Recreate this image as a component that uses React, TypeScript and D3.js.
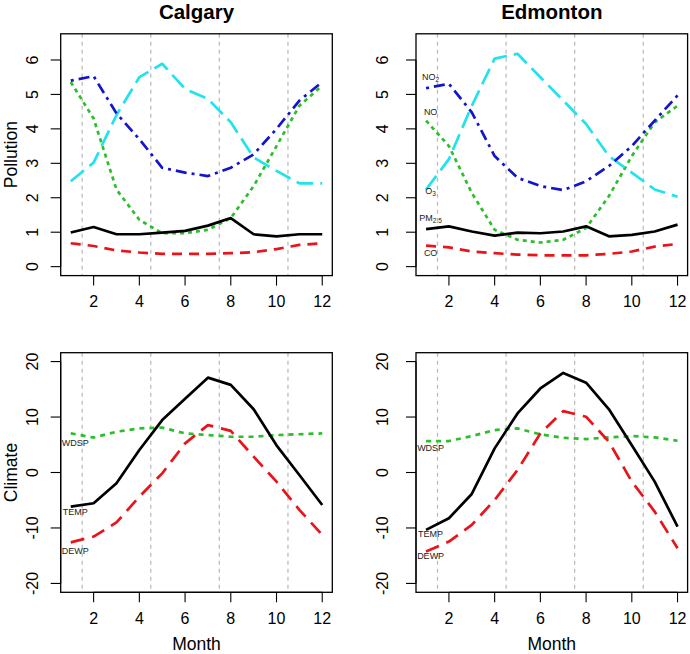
import React from "react";
import * as d3 from "d3";

const months = [1, 2, 3, 4, 5, 6, 7, 8, 9, 10, 11, 12];
const seasonBreaks = [1.5, 4.5, 7.5, 10.5];
const monthTicks = [2, 4, 6, 8, 10, 12];
const pollutionTicks = [0, 1, 2, 3, 4, 5, 6];
const climateTicks = [-20, -10, 0, 10, 20];
const cities = ["Calgary", "Edmonton"];

// Calgary pollution
const calNO2 = [5.4, 5.53, 4.45, 3.7, 2.87, 2.73, 2.63, 2.87, 3.26, 4.0, 4.82, 5.36];
const calO3 = [2.48, 3.02, 4.4, 5.5, 5.89, 5.16, 4.87, 4.19, 3.17, 2.78, 2.42, 2.42];
const calNO = [5.36, 4.3, 2.24, 1.36, 0.97, 0.97, 1.07, 1.41, 2.34, 3.5, 4.67, 5.26];
const calPM25 = [0.99, 1.15, 0.94, 0.94, 0.99, 1.04, 1.19, 1.41, 0.94, 0.88, 0.94, 0.94];
const calCO = [0.68, 0.6, 0.47, 0.41, 0.37, 0.37, 0.37, 0.39, 0.42, 0.51, 0.63, 0.68];

// Edmonton pollution
const edmNO2 = [5.18, 5.31, 4.48, 3.21, 2.58, 2.34, 2.22, 2.48, 2.92, 3.5, 4.24, 4.97];
const edmO3 = [2.24, 3.12, 4.67, 6.04, 6.18, 5.5, 4.82, 4.14, 3.21, 2.73, 2.24, 2.03];
const edmNO = [4.24, 3.5, 2.14, 1.07, 0.78, 0.7, 0.78, 1.12, 2.05, 3.21, 4.19, 4.67];
const edmPM25 = [1.09, 1.17, 1.02, 0.9, 0.99, 0.97, 1.02, 1.17, 0.88, 0.92, 1.02, 1.22];
const edmCO = [0.61, 0.56, 0.44, 0.39, 0.35, 0.33, 0.33, 0.33, 0.37, 0.44, 0.58, 0.66];

// Calgary climate
const calTEMP = [-6.15, -5.55, -1.95, 4.05, 9.45, 13.3, 17.1, 15.8, 11.4, 4.9, -0.45, -5.85];
const calDEWP = [-12.6, -11.55, -9.0, -4.35, -0.15, 5.25, 8.55, 7.5, 2.85, -1.65, -6.75, -11.25];
const calWDSP = [7.05, 6.3, 7.35, 7.95, 8.1, 7.05, 6.75, 6.45, 6.45, 6.75, 6.9, 7.05];

// Edmonton climate
const edmTEMP = [-10.35, -8.25, -3.87, 4.35, 10.65, 15.15, 17.96, 16.2, 11.4, 4.9, -1.65, -9.75];
const edmDEWP = [-14.25, -12.45, -9.45, -4.95, 0.45, 7.05, 11.07, 10.05, 5.55, -1.65, -7.05, -13.65];
const edmWDSP = [5.67, 5.67, 6.57, 7.65, 7.95, 6.87, 6.27, 6.03, 6.33, 6.57, 6.33, 5.73];

// label annotations (value positions)
const edmPollutionLabels = [
  { name: "NO", sub: "2", y: 5.5 },
  { name: "NO", sub: "", y: 4.5 },
  { name: "O", sub: "3", y: 2.2 },
  { name: "PM", sub: "2.5", y: 1.42 },
  { name: "CO", sub: "", y: 0.4 },
];
const calClimateLabels = [
  { name: "WDSP", sub: "", y: 5.25 },
  { name: "TEMP", sub: "", y: -7.2 },
  { name: "DEWP", sub: "", y: -14.1 },
];
const edmClimateLabels = [
  { name: "WDSP", sub: "", y: 4.46 },
  { name: "TEMP", sub: "", y: -11.1 },
  { name: "DEWP", sub: "", y: -15.1 },
];

const FONT = "Liberation Sans, Arial, Helvetica, sans-serif";
const BLUE = "#1414CC";
const CYAN = "#22E2EC";
const GREEN = "#2DBE2D";
const RED = "#E8141A";

type Series = { values: number[]; color: string; dash: string; width?: number };
type Label = { name: string; sub: string; y: number };

function Panel(props: {
  x0: number;
  x1: number;
  y0: number;
  y1: number;
  domain: [number, number];
  yTicks: number[];
  series: Series[];
  labels: Label[];
  yTickX: number;
  yTitle?: string;
  title?: string;
  xTitle?: string;
}) {
  const { x0, x1, y0, y1, domain, yTicks, series, labels, yTickX, yTitle, title, xTitle } = props;
  const ext = (12 - 1) * 0.04;
  const xs = d3.scaleLinear().domain([1 - ext, 12 + ext]).range([x0, x1]);
  const dext = (domain[1] - domain[0]) * 0.04;
  const ys = d3.scaleLinear().domain([domain[0] - dext, domain[1] + dext]).range([y1, y0]);
  const line = d3
    .line<number>()
    .x((_, i) => xs(months[i]))
    .y((d) => ys(d));
  const tick = 10;
  return (
    <g>
      {seasonBreaks.map((b) => (
        <line key={b} x1={xs(b)} x2={xs(b)} y1={y0} y2={y1} stroke="#bdbdbd" strokeWidth={1.3} strokeDasharray="4,4" />
      ))}
      {series.map((s, i) => (
        <path key={i} d={line(s.values) || ""} fill="none" stroke={s.color} strokeWidth={s.width ?? 2.7} strokeDasharray={s.dash} strokeLinejoin="round" />
      ))}
      {labels.map((l, i) => (
        <text key={i} x={xs(1.2)} y={ys(l.y) + 3} fontSize={9} fontFamily={FONT} textAnchor="middle" fill="#222">
          {l.name}
          {l.sub ? (
            <tspan fontSize={6.5} dy={2}>{l.sub}</tspan>
          ) : null}
        </text>
      ))}
      <rect x={x0} y={y0} width={x1 - x0} height={y1 - y0} fill="none" stroke="#000" strokeWidth={1.3} />
      {/* x axis */}
      <line x1={xs(2)} x2={xs(12)} y1={y1} y2={y1} stroke="#000" strokeWidth={1.1} />
      {monthTicks.map((t) => (
        <g key={t}>
          <line x1={xs(t)} x2={xs(t)} y1={y1} y2={y1 + tick} stroke="#000" strokeWidth={1.1} />
          <text x={xs(t)} y={y1 + 31.5} fontSize={16} fontFamily={FONT} textAnchor="middle" fill="#000">
            {t}
          </text>
        </g>
      ))}
      {/* y axis */}
      <line x1={x0} x2={x0} y1={ys(yTicks[0])} y2={ys(yTicks[yTicks.length - 1])} stroke="#000" strokeWidth={1.1} />
      {yTicks.map((t) => (
        <g key={t}>
          <line x1={x0 - tick} x2={x0} y1={ys(t)} y2={ys(t)} stroke="#000" strokeWidth={1.1} />
          <text
            transform={`translate(${yTickX},${ys(t)}) rotate(-90)`}
            fontSize={16}
            fontFamily={FONT}
            textAnchor="middle"
            fill="#000"
          >
            {t}
          </text>
        </g>
      ))}
      {yTitle ? (
        <text
          transform={`translate(16.5,${(y0 + y1) / 2}) rotate(-90)`}
          fontSize={17.5}
          fontFamily={FONT}
          textAnchor="middle"
          fill="#000"
        >
          {yTitle}
        </text>
      ) : null}
      {title ? (
        <text x={(x0 + x1) / 2} y={18.5} fontSize={20.5} fontWeight="bold" fontFamily={FONT} textAnchor="middle" fill="#000">
          {title}
        </text>
      ) : null}
      {xTitle ? (
        <text x={(x0 + x1) / 2} y={649.5} fontSize={17.5} fontFamily={FONT} textAnchor="middle" fill="#000">
          {xTitle}
        </text>
      ) : null}
    </g>
  );
}

export default function App() {
  const pollutionSeries = (no2: number[], o3: number[], no: number[], pm: number[], co: number[]): Series[] => [
    { values: no, color: GREEN, dash: "4,4" },
    { values: o3, color: CYAN, dash: "17,7" },
    { values: no2, color: BLUE, dash: "3,5,11,5" },
    { values: pm, color: "#000", dash: "" },
    { values: co, color: RED, dash: "10,7" },
  ];
  const climateSeries = (t: number[], dw: number[], ws: number[]): Series[] => [
    { values: ws, color: GREEN, dash: "5,5" },
    { values: dw, color: RED, dash: "14,8" },
    { values: t, color: "#000", dash: "" },
  ];
  return (
    <svg width={690} height={654} style={{ position: "absolute", left: 0, top: 0, background: "#fff" }}>
      <rect x={0} y={0} width={690} height={654} fill="#fff" />
      <Panel
        x0={60.7}
        x1={332.3}
        y0={33.8}
        y1={275.6}
        domain={[0, 6.5]}
        yTicks={pollutionTicks}
        series={pollutionSeries(calNO2, calO3, calNO, calPM25, calCO)}
        labels={[]}
        yTickX={38}
        yTitle="Pollution"
        title={cities[0]}
      />
      <Panel
        x0={416}
        x1={687.6}
        y0={33.8}
        y1={275.6}
        domain={[0, 6.5]}
        yTicks={pollutionTicks}
        series={pollutionSeries(edmNO2, edmO3, edmNO, edmPM25, edmCO)}
        labels={edmPollutionLabels}
        yTickX={387.5}
        title={cities[1]}
      />
      <Panel
        x0={60.7}
        x1={332.3}
        y0={352.7}
        y1={592.3}
        domain={[-20, 20]}
        yTicks={climateTicks}
        series={climateSeries(calTEMP, calDEWP, calWDSP)}
        labels={calClimateLabels}
        yTickX={38}
        yTitle="Climate"
        xTitle="Month"
      />
      <Panel
        x0={416}
        x1={687.6}
        y0={352.7}
        y1={592.3}
        domain={[-20, 20]}
        yTicks={climateTicks}
        series={climateSeries(edmTEMP, edmDEWP, edmWDSP)}
        labels={edmClimateLabels}
        yTickX={387.5}
        xTitle="Month"
      />
    </svg>
  );
}
